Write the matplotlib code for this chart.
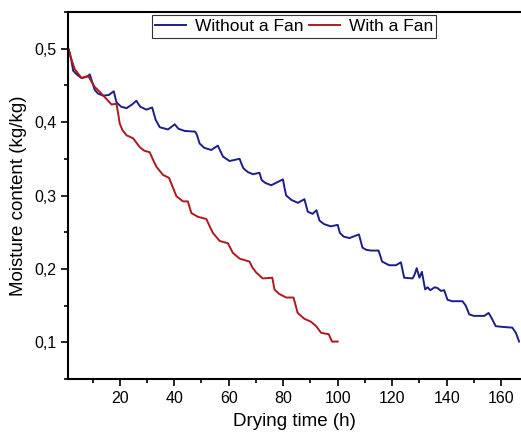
import numpy as np
import matplotlib
matplotlib.use('Agg')
import matplotlib.pyplot as plt
from matplotlib.ticker import FuncFormatter, MultipleLocator

# drying curves: time (h), moisture content (kg/kg)
t_without = [1.3, 2.2, 2.9, 4.5, 6, 8, 9, 10.8, 12, 13.9, 16, 17.8, 18.8, 20.5, 22.5,
             24.5, 26.1, 27.5, 29.8, 31.9, 33.2, 34.7, 37.7, 40.2, 41.5, 43.8, 47.7,
             48.3, 49.3, 51, 53.6, 56, 57, 57.9, 60.3, 64, 64.6, 65.4, 67, 68.9, 71.3,
             72.1, 73.5, 75.6, 79.9, 80.5, 81.1, 83, 85.4, 87.8, 89, 90.8, 92.2, 93.3,
             95, 97.5, 100, 100.8, 102.2, 104.3, 107.8, 109.1, 110.5, 112.2, 115, 116.3,
             118.9, 121.4, 123.2, 124.4, 127.5, 128.2, 129, 130, 130.9, 132.1, 133, 134,
             135.6, 136.6, 137.9, 139.1, 140.3, 142, 145.8, 147, 148.3, 150, 153.8,
             155.4, 156.5, 158, 160.5, 164.1, 165.4, 166.6]
m_without = [0.499, 0.485, 0.470, 0.464, 0.460, 0.462, 0.465, 0.444, 0.439, 0.436, 0.437,
             0.442, 0.427, 0.421, 0.419, 0.424, 0.429, 0.421, 0.417, 0.420, 0.403, 0.393,
             0.390, 0.397, 0.391, 0.388, 0.387, 0.383, 0.371, 0.365, 0.362, 0.368, 0.360,
             0.353, 0.347, 0.350, 0.344, 0.337, 0.332, 0.329, 0.331, 0.321, 0.317, 0.314,
             0.322, 0.310, 0.300, 0.294, 0.290, 0.295, 0.278, 0.275, 0.280, 0.266, 0.261,
             0.258, 0.260, 0.249, 0.244, 0.242, 0.247, 0.229, 0.226, 0.225, 0.225, 0.210,
             0.205, 0.205, 0.209, 0.188, 0.187, 0.192, 0.201, 0.188, 0.196, 0.172, 0.175,
             0.171, 0.175, 0.174, 0.170, 0.171, 0.158, 0.156, 0.156, 0.150, 0.138, 0.136,
             0.136, 0.140, 0.133, 0.122, 0.121, 0.120, 0.113, 0.101]

t_with = [1.3, 2.3, 3.5, 6, 8.4, 9.5, 10.8, 12.7, 14.5, 17, 18.8, 19.4, 20, 21, 22.5,
          24.9, 27.3, 29, 31, 32.3, 33.5, 35.9, 38.1, 39.5, 40.8, 43.2, 45, 46.3, 48.7,
          51.8, 53, 54.2, 56.7, 59.7, 61.5, 64, 67.6, 68.7, 70.1, 72.5, 76, 76.8, 78.5,
          81.1, 83.8, 85.3, 87.8, 90.2, 92.1, 93.9, 96.7, 97.9, 100]
m_with = [0.498, 0.485, 0.472, 0.460, 0.463, 0.456, 0.448, 0.441, 0.434, 0.424, 0.425,
          0.412, 0.398, 0.389, 0.382, 0.378, 0.366, 0.361, 0.359, 0.348, 0.339, 0.328,
          0.324, 0.311, 0.299, 0.292, 0.292, 0.276, 0.271, 0.268, 0.258, 0.249, 0.238,
          0.235, 0.222, 0.214, 0.210, 0.202, 0.195, 0.187, 0.188, 0.172, 0.166, 0.161,
          0.161, 0.140, 0.132, 0.128, 0.122, 0.113, 0.111, 0.101, 0.101]

plt.rcParams['font.family'] = ['Liberation Sans', 'DejaVu Sans']

fig = plt.figure(figsize=(5.21, 4.37), dpi=100)
ax = fig.add_axes([0.1305, 0.1327, 0.868, 0.8398])

ax.plot(t_without, m_without, color='#1c1f8a', linewidth=1.4, label='Without a Fan')
ax.plot(t_with, m_with, color='#b0181c', linewidth=1.4, label='With a Fan')

ax.set_xlim(1, 167)
ax.set_ylim(0.05, 0.55)
ax.xaxis.set_major_locator(MultipleLocator(20))
ax.xaxis.set_minor_locator(MultipleLocator(10))
ax.yaxis.set_major_locator(MultipleLocator(0.1))
ax.yaxis.set_minor_locator(MultipleLocator(0.05))
ax.yaxis.set_major_formatter(FuncFormatter(lambda v, p: ('%.1f' % v).replace('.', ',')))

for s in ['left', 'bottom', 'top']:
    ax.spines[s].set_linewidth(1.5)
ax.spines['right'].set_visible(False)
ax.tick_params(which='major', direction='out', length=5, width=1.2, labelsize=11.5, top=False)
ax.tick_params(which='minor', direction='out', length=3, width=1.2)

ax.set_xlabel('Drying time (h)', fontsize=13.5, labelpad=5)
ax.set_ylabel('Moisture content (kg/kg)', fontsize=13.5, labelpad=5)

leg = ax.legend(loc='upper center', bbox_to_anchor=(0.5, 1.0), ncol=2, fontsize=12.5,
                fancybox=False, edgecolor='#333333', framealpha=1, borderaxespad=0.2,
                borderpad=0.2, handlelength=1.8, handletextpad=0.5, columnspacing=0.3)
leg.get_frame().set_linewidth(0.8)

plt.savefig('out.png', dpi=100)
